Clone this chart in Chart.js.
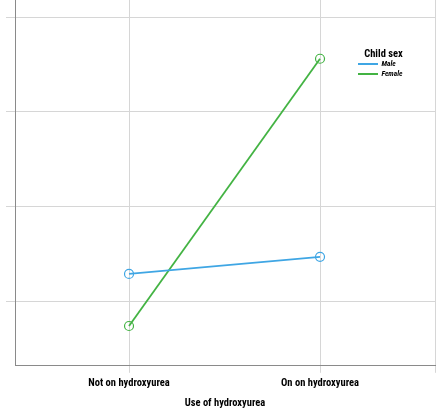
<!DOCTYPE html>
<html>
<head>
<meta charset="utf-8">
<script src="https://cdn.jsdelivr.net/npm/chart.js@4/dist/chart.umd.min.js"></script>
<style>
html,body{margin:0;padding:0;background:#fff;}
#wrap{width:445px;height:411px;position:relative;}
</style>
</head>
<body>
<div id="wrap"><canvas id="c" width="445" height="411"></canvas></div>
<script>
const categories = ["Not on hydroxyurea", "On on hydroxyurea"];
const seriesNames = ["Male", "Female"];
const maleValues = [1.29, 1.47];
const femaleValues = [0.74, 3.56];
const yTickValues = [1, 2, 3, 4];
const legendTitle = "Child sex";
const xTitle = "Use of hydroxyurea";

const colors = ["#3fa6e4", "#43b343"];
const FONT = "'Roboto Condensed', 'Open Sans Condensed', sans-serif";

const X_MIN = -0.597, X_MAX = 1.602;

function toPoints(vals){ return vals.map((v,i)=>({x:i, y:v})); }

const legendPlugin = {
  id: 'customLegend',
  afterDraw(chart){
    const ctx = chart.ctx;
    ctx.save();
    ctx.fillStyle = '#000';
    ctx.font = "bold 10.5px " + FONT;
    ctx.textAlign = 'center';
    ctx.textBaseline = 'alphabetic';
    ctx.fillText(legendTitle, 383.5, 56.5);
    const ys = [64, 74];
    seriesNames.forEach((n,i)=>{
      ctx.strokeStyle = colors[i];
      ctx.lineWidth = 2;
      ctx.beginPath();
      ctx.moveTo(358, ys[i]);
      ctx.lineTo(378, ys[i]);
      ctx.stroke();
      ctx.font = "italic bold 7.5px " + FONT;
      ctx.textAlign = 'left';
      ctx.textBaseline = 'middle';
      ctx.fillText(n, 381.5, ys[i]);
    });
    ctx.restore();
  }
};

new Chart(document.getElementById('c'), {
  type: 'line',
  data: {
    datasets: [
      { label: seriesNames[0], data: toPoints(maleValues), borderColor: colors[0], backgroundColor: '#fff',
        borderWidth: 1.8, pointRadius: 4.5, pointBorderWidth: 1.2, pointBackgroundColor: 'rgba(255,255,255,0)', pointBorderColor: colors[0] },
      { label: seriesNames[1], data: toPoints(femaleValues), borderColor: colors[1], backgroundColor: '#fff',
        borderWidth: 1.8, pointRadius: 4.5, pointBorderWidth: 1.2, pointBackgroundColor: 'rgba(255,255,255,0)', pointBorderColor: colors[1] }
    ]
  },
  options: {
    responsive: false,
    animation: false,
    layout: { autoPadding: false, padding: { left: 6, right: 10, top: 0, bottom: 0 } },
    plugins: { legend: { display: false }, tooltip: { enabled: false } },
    scales: {
      x: {
        type: 'linear',
        min: X_MIN, max: X_MAX,
        afterBuildTicks(scale){ scale.ticks = [0, 1, X_MAX].map(v=>({value:v})); },
        ticks: {
          callback(v){ return categories[v] !== undefined && Number.isInteger(v) ? categories[v] : ''; },
          font: { family: FONT, size: 10.5, weight: 'bold' }, color: '#000', padding: 4, maxRotation: 0, autoSkip: false
        },
        grid: { color: '#d6d6d6', lineWidth: 1, tickLength: 7 },
        border: { color: '#8a8a8a', width: 1 },
        title: { display: true, text: xTitle, color: '#000', font: { family: FONT, size: 10.5, weight: 'bold' }, padding: { top: 4, bottom: 1 } }
      },
      y: {
        min: 0.32, max: 4.18,
        afterBuildTicks(scale){ scale.ticks = yTickValues.map(v=>({value:v})); },
        ticks: { display: false },
        grid: { color: '#d6d6d6', lineWidth: 1, tickLength: 9 },
        border: { color: '#8a8a8a', width: 1 }
      }
    }
  },
  plugins: [legendPlugin]
});
</script>
</body>
</html>
